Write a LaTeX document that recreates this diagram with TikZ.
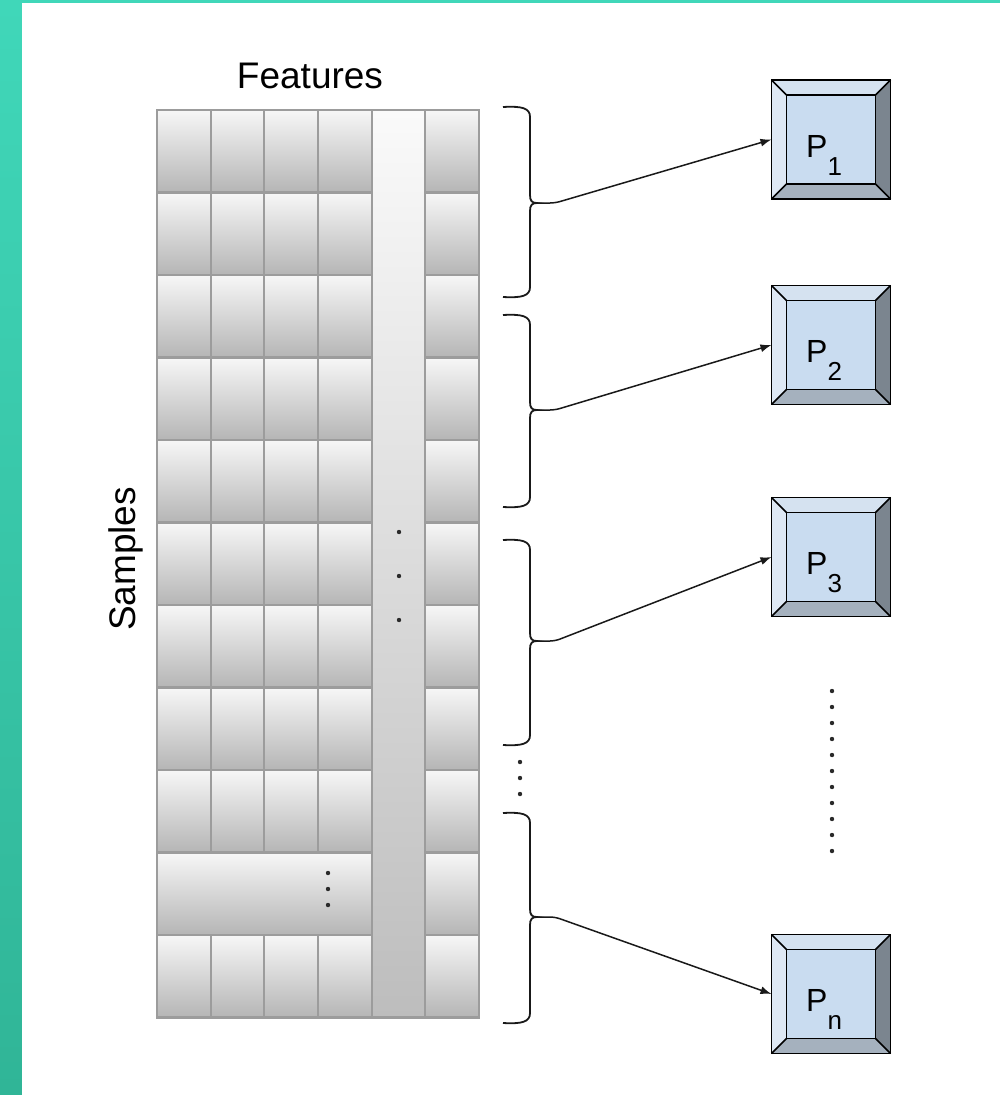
\documentclass[tikz,border=0pt]{standalone}
\usepackage{fontspec}
\setmainfont{Liberation Sans}
\usetikzlibrary{arrows.meta,calc}

\definecolor{tealtop}{HTML}{40D7B9}
\definecolor{tealbot}{HTML}{30B597}
\definecolor{cellline}{HTML}{9C9C9C}
\definecolor{celltop}{HTML}{F7F7F7}
\definecolor{cellbot}{HTML}{B5B5B5}
\definecolor{striptop}{HTML}{FAFAFA}
\definecolor{stripbot}{HTML}{BDBDBD}
\definecolor{pface}{HTML}{C9DCF0}
\definecolor{bvtopc}{HTML}{D5E2F0}
\definecolor{bvleftc}{HTML}{DEE8F4}
\definecolor{bvrightc}{HTML}{7B858F}
\definecolor{bvbotc}{HTML}{A5B1BE}
\definecolor{dotc}{HTML}{2A2A2A}

\tikzset{
  cell/.style={draw=cellline, line width=2.5pt, top color=celltop, bottom color=cellbot},
  strip/.style={draw=cellline, line width=2.5pt, top color=striptop, bottom color=stripbot},
  bracestyle/.style={draw=black!90, line width=1.8pt},
  conn/.style={draw=black!90, line width=1.5pt, rounded corners=5pt,
    -{Latex[length=11pt,width=8pt]}},
  pbox/.style={minimum size=119pt, inner sep=0pt, outer sep=0pt, fill=pface},
  bvline/.style={draw=black, line width=1.6pt},
  plabel/.style={inner sep=0pt, font=\fontsize{32}{38}\selectfont},
  title/.style={inner sep=0pt, font=\fontsize{37}{44}\selectfont},
}

% subscript of a processor label
\newcommand\psub[1]{\raisebox{-18pt}{\fontsize{26}{30}\selectfont #1}}

% curly brace to the right of a block of rows; #1 names its tip
\newcommand\rowbrace[4]{%
  \draw[bracestyle] (503,#2) .. controls (522,#2-1) and (530,#2+1) .. (530,#2+10)
    -- (530,#3-8) .. controls (530,#3-2) and (532,#3) .. (537,#3)
    .. controls (532,#3) and (530,#3+2) .. (530,#3+8)
    -- (530,#4-10) .. controls (530,#4-1) and (522,#4+1) .. (503,#4);
  \coordinate (#1) at (537,#3);
}

% bevelled key face around a processor node
\newcommand\bevel[1]{%
  \coordinate (#1-a) at ($(#1.north west)+(15pt,-15pt)$);
  \coordinate (#1-b) at ($(#1.north east)+(-15pt,-15pt)$);
  \coordinate (#1-c) at ($(#1.south east)+(-15pt,15pt)$);
  \coordinate (#1-d) at ($(#1.south west)+(15pt,15pt)$);
  \fill[bvtopc] (#1.north west) -- (#1.north east) -- (#1-b) -- (#1-a) -- cycle;
  \fill[bvleftc] (#1.north west) -- (#1-a) -- (#1-d) -- (#1.south west) -- cycle;
  \fill[bvrightc] (#1.north east) -- (#1.south east) -- (#1-c) -- (#1-b) -- cycle;
  \fill[bvbotc] (#1.south west) -- (#1-d) -- (#1-c) -- (#1.south east) -- cycle;
  \draw[bvline] (#1.north west) rectangle (#1.south east);
  \draw[bvline] (#1-a) rectangle (#1-c);
  \draw[bvline] (#1.north west) -- (#1-a) (#1.north east) -- (#1-b)
    (#1.south east) -- (#1-c) (#1.south west) -- (#1-d);
}

\begin{document}
\begin{tikzpicture}[x=1pt,y=-1pt]
\useasboundingbox (0,0) rectangle (1000,1095);

% frame
\shade[top color=tealtop, bottom color=tealbot] (0,0) rectangle (1000,1095);
\fill[white] (22,3) rectangle (1000,1095);

% data matrix: the fifth feature column is one continuous strip
\shadedraw[strip] (372,110) rectangle (425,1017.5);
\foreach \r in {0,...,10} {
  \pgfmathsetmacro\ya{110+82.5*\r}
  \pgfmathsetmacro\yb{\ya+82.5}
  \ifnum\r=9
    \shadedraw[cell] (157,\ya) rectangle (372,\yb);
  \else
    \foreach \xa/\xb in {157/211,211/264,264/318,318/372}
      \shadedraw[cell] (\xa,\ya) rectangle (\xb,\yb);
  \fi
  \shadedraw[cell] (425,\ya) rectangle (479,\yb);
}

% ellipses inside the matrix
\foreach \y in {532,576,620} \fill[dotc] (399,\y) circle (2.2);
\foreach \y in {873,889,905} \fill[dotc] (328,\y) circle (2.2);

% axis titles
\node[title, anchor=base] (features) at (310,88) {Features};
\node[title, anchor=base, rotate=90] (samples) at (135,559) {Samples};

% processors
\node[pbox] (p1) at (831,139.5) {};
\node[pbox] (p2) at (831,345) {};
\node[pbox] (p3) at (831,557) {};
\node[pbox] (pn) at (831,994) {};
\foreach \p in {p1,p2,p3,pn} { \bevel{\p} }

\node[plabel, anchor=base west] (l1) at ($(p1.center)+(-25pt,-17.5pt)$) {P\psub{1}};
\node[plabel, anchor=base west] (l2) at ($(p2.center)+(-25pt,-17.5pt)$) {P\psub{2}};
\node[plabel, anchor=base west] (l3) at ($(p3.center)+(-25pt,-17.5pt)$) {P\psub{3}};
\node[plabel, anchor=base west] (ln) at ($(pn.center)+(-25pt,-17.5pt)$) {P\psub{n}};

% row groups
\rowbrace{b1}{107}{203}{297}
\rowbrace{b2}{315}{410}{507}
\rowbrace{b3}{540}{641}{745}
\rowbrace{bn}{813}{917}{1023}
\foreach \y in {762,778,794} \fill[dotc] (520,\y) circle (2.2);
\foreach \i in {0,...,10} \fill[dotc] (832,691+16*\i) circle (2.2);

% assignments of row groups to processors
\draw[conn] (b1) -- ++(18,0) -- (p1.west);
\draw[conn] (b2) -- ++(18,0) -- (p2.west);
\draw[conn] (b3) -- ++(18,0) -- (p3.west);
\draw[conn] (bn) -- ++(18,0) -- (pn.west);
\end{tikzpicture}
\end{document}
